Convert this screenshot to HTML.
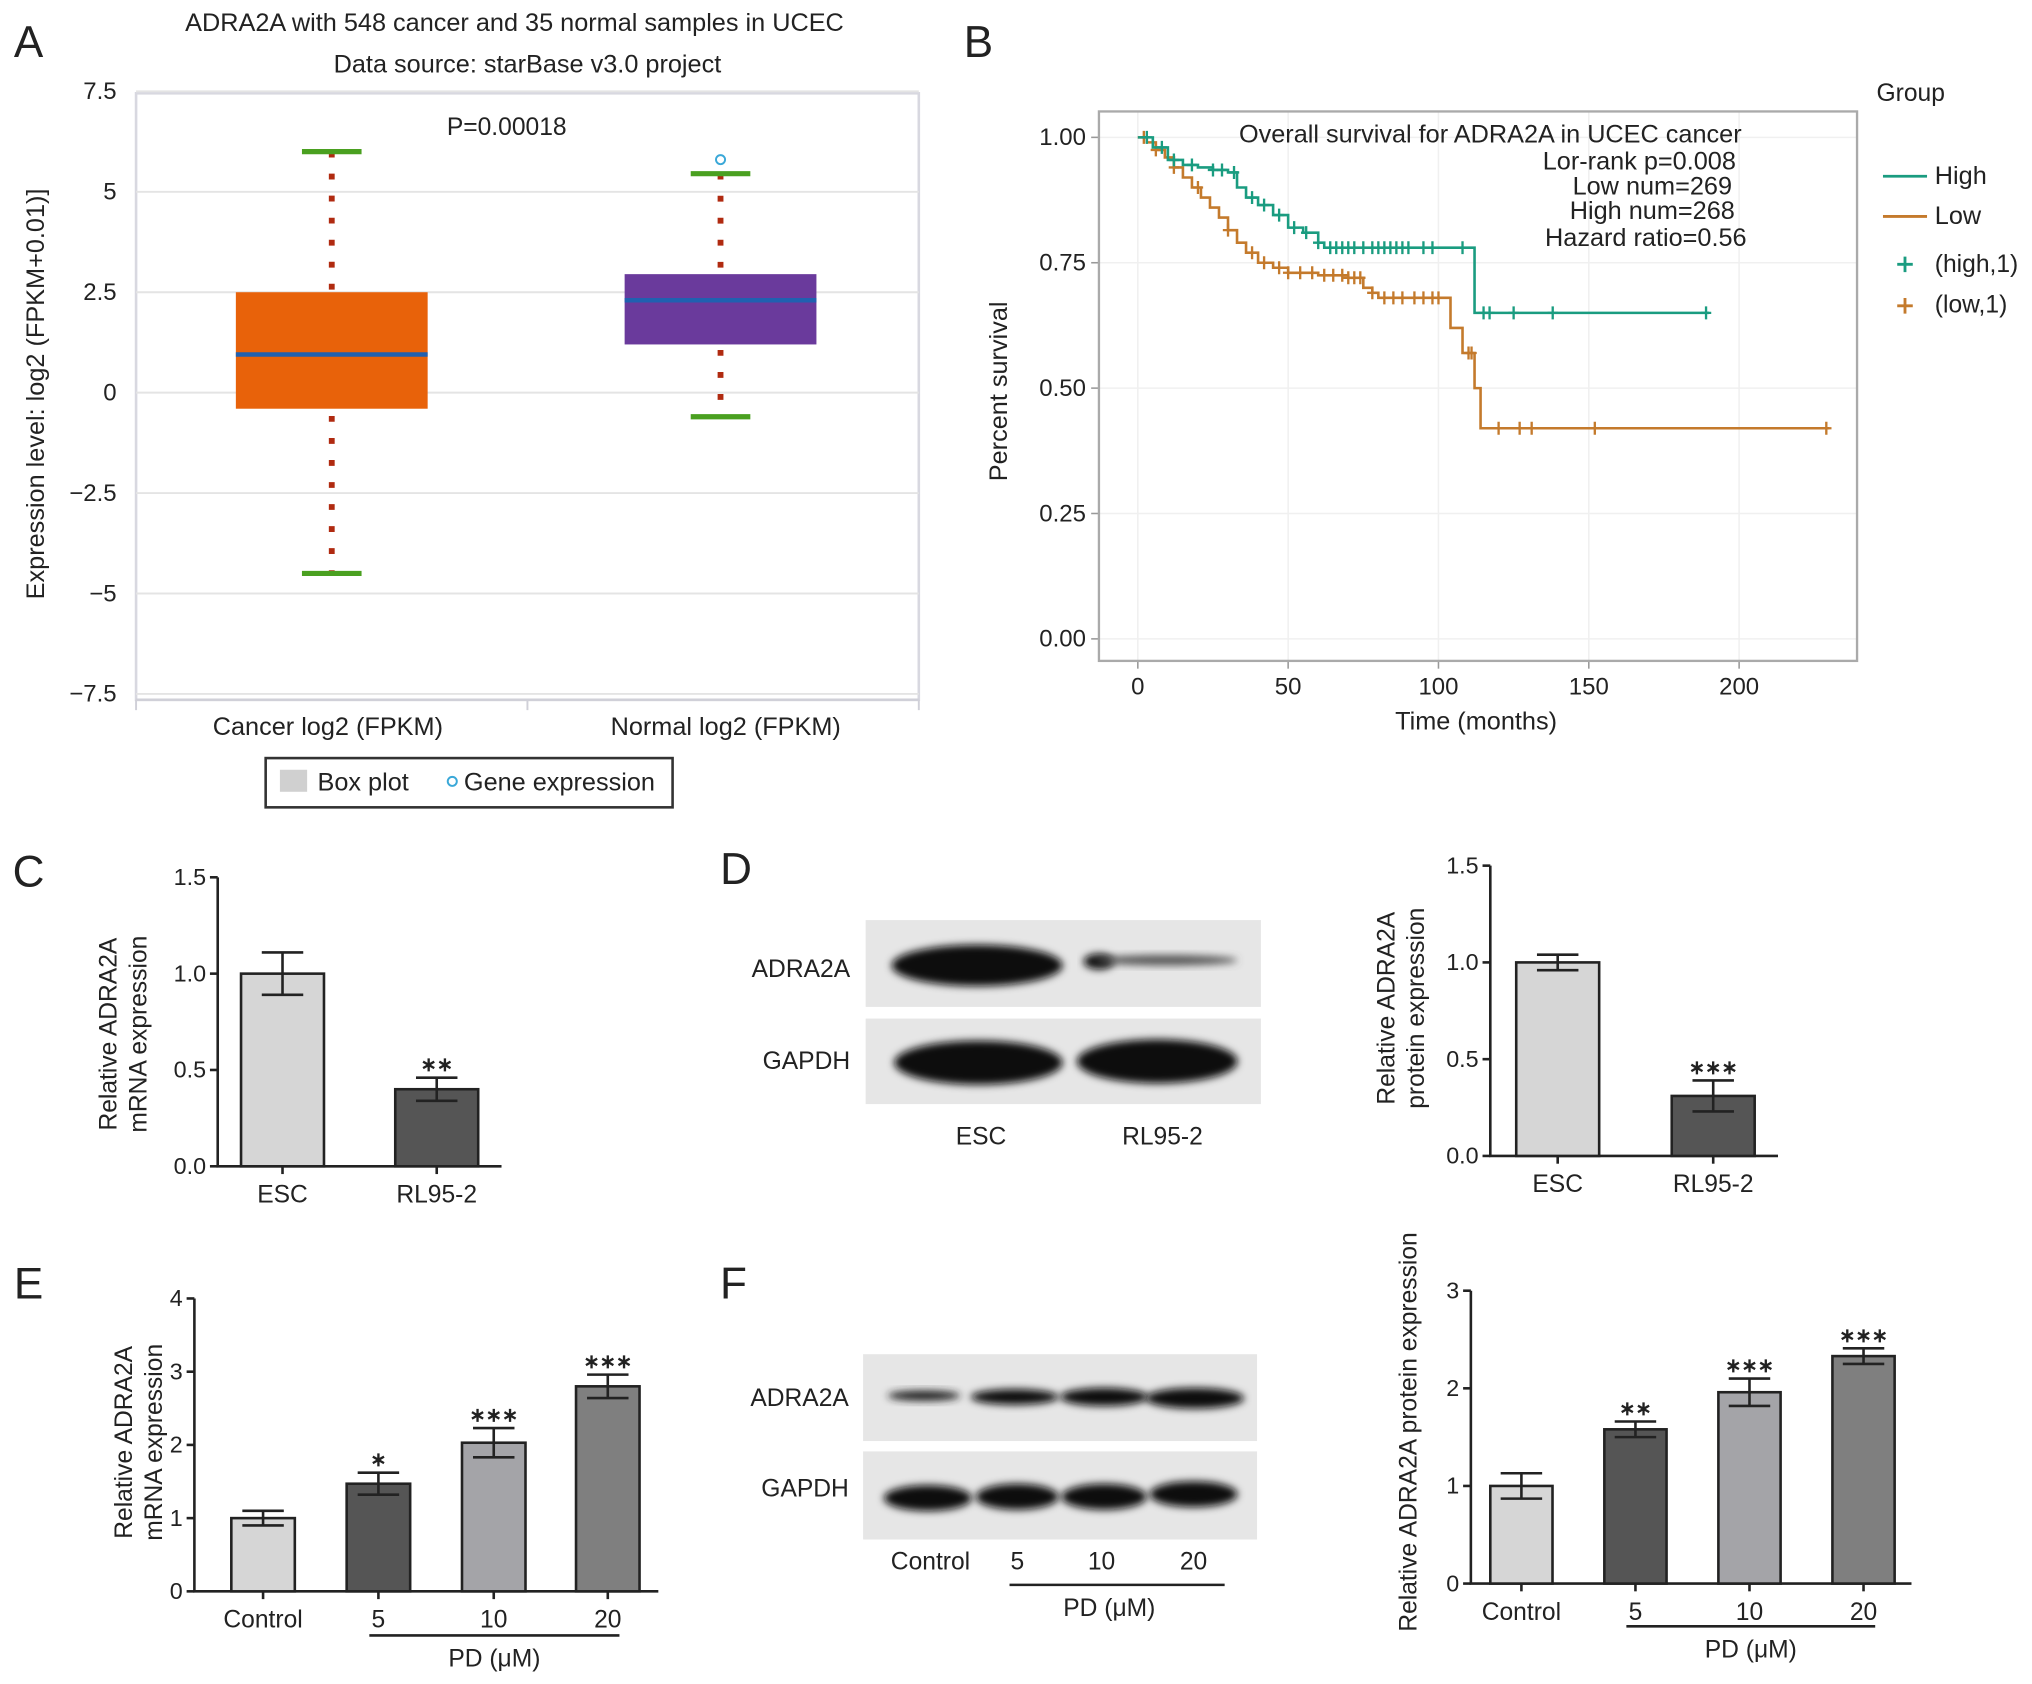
<!DOCTYPE html>
<html><head><meta charset="utf-8"><style>
html,body{margin:0;padding:0;background:#fff;}
svg{display:block;font-family:"Liberation Sans",sans-serif;}
</style></head><body>
<svg id="fig" width="2032" height="1684" viewBox="0 0 1568 1299.5" preserveAspectRatio="none" xmlns="http://www.w3.org/2000/svg">
<defs>
<filter id="blur" x="-20%" y="-50%" width="140%" height="200%"><feGaussianBlur stdDeviation="3"/></filter>
</defs>
<g id="panelA"></g>
<g id="panelB"></g>
<g id="panelC"></g>
<g id="panelD"></g>
<g id="panelE"></g>
<g id="panelF"></g>
</svg>
<script>
// ---- Panel A data ----
const aTicks = [7.5, 5, 2.5, 0, -2.5, -5, -7.5];
const aTickLabels = ["7.5", "5", "2.5", "0", "\u22122.5", "\u22125", "\u22127.5"];
const aCategories = ["Cancer log2 (FPKM)", "Normal log2 (FPKM)"];
const aQ1 = [-0.4, 1.2];
const aQ3 = [2.5, 2.95];
const aMedian = [0.95, 2.3];
const aWhiskerLow = [-4.5, -0.6];
const aWhiskerHigh = [6.0, 5.45];
const aOutliers = [[], [5.8]];
// ---- Panel B data ----
const highT = [0, 5, 10, 15, 20, 25, 30, 33, 36, 40, 45, 50, 55, 60, 62, 112, 190];
const highS = [1, 0.98, 0.955, 0.945, 0.94, 0.935, 0.93, 0.9, 0.88, 0.865, 0.845, 0.82, 0.81, 0.79, 0.78, 0.65, 0.65];
const lowT = [0, 3, 6, 9, 12, 15, 18, 21, 24, 27, 30, 33, 36, 40, 45, 50, 60, 70, 75, 78, 80, 104, 108, 112, 114, 230];
const lowS = [1, 0.99, 0.975, 0.96, 0.94, 0.92, 0.9, 0.88, 0.86, 0.84, 0.815, 0.79, 0.77, 0.75, 0.74, 0.73, 0.725, 0.72, 0.7, 0.69, 0.68, 0.62, 0.57, 0.5, 0.42, 0.42];
const highCensor = [3, 8, 12, 18, 25, 28, 32, 38, 42, 47, 52, 56, 60, 64, 66, 68, 70, 72, 75, 78, 80, 82, 84, 86, 88, 90, 95, 98, 108, 115, 117, 125, 138, 189];
const lowCensor = [2, 6, 12, 20, 30, 38, 42, 47, 50, 54, 58, 62, 65, 68, 70, 72, 74, 78, 82, 85, 88, 92, 95, 98, 100, 110, 111, 120, 127, 131, 152, 229];
const bYTicks = [0, 0.25, 0.5, 0.75, 1.0];
const bYLabels = ["0.00", "0.25", "0.50", "0.75", "1.00"];
const bXTicks = [0, 50, 100, 150, 200];
// ---- Panel C data ----
const cCategories = ["ESC", "RL95-2"];
const cValues = [1.0, 0.4];
const cErrors = [0.11, 0.06];
const cStars = ["", "**"];
const cTicks = [0, 0.5, 1.0, 1.5];
const cTickLabels = ["0.0", "0.5", "1.0", "1.5"];
// ---- Panel D data ----
const dCategories = ["ESC", "RL95-2"];
const dValues = [1.0, 0.31];
const dErrors = [0.04, 0.08];
const dStars = ["", "***"];
const dTicks = [0, 0.5, 1.0, 1.5];
const dTickLabels = ["0.0", "0.5", "1.0", "1.5"];
// ---- Panel E data ----
const eCategories = ["Control", "5", "10", "20"];
const eValues = [1.0, 1.47, 2.03, 2.8];
const eErrors = [0.1, 0.15, 0.2, 0.16];
const eStars = ["", "*", "***", "***"];
const eTicks = [0, 1, 2, 3, 4];
const eTickLabels = ["0", "1", "2", "3", "4"];
// ---- Panel F data ----
const fCategories = ["Control", "5", "10", "20"];
const fValues = [1.0, 1.58, 1.96, 2.33];
const fErrors = [0.13, 0.08, 0.14, 0.08];
const fStars = ["", "**", "***", "***"];
const fTicks = [0, 1, 2, 3];
const fTickLabels = ["0", "1", "2", "3"];

const NS = "http://www.w3.org/2000/svg";
function mk(parent, tag, attrs, text) {
  const e = document.createElementNS(NS, tag);
  for (const k in attrs) e.setAttribute(k, attrs[k]);
  if (text !== undefined) e.textContent = text;
  parent.appendChild(e);
  return e;
}
function txt(parent, x, y, s, size, anchor, name, extra) {
  const t = mk(parent, "text", Object.assign({x: x, y: y, "font-size": size, "text-anchor": anchor || "middle", fill: "#222"}, extra || {}), s);
  
  
  return t;
}
const barColors = ["#d6d6d6", "#555555", "#a4a4a8", "#7f7f7f"];
const FS = 19;

// ---------- Panel A ----------
(function(){
  const g = document.getElementById("panelA");
  const x0 = 105, x1 = 709;
  const y = v => 303 - v * 31.0;
  txt(g, 22, 44, "A", 34, "middle", "panel-label-a");
  txt(g, 397, 24, "ADRA2A with  548 cancer and 35 normal samples in UCEC", 19.5, "middle", "chart-title-a");
  txt(g, 407, 56, "Data source: starBase v3.0 project", 19.5, "middle", "chart-subtitle-a");
  const fr = mk(g, "rect", {x: x0, y: 72, width: x1 - x0, height: 468, fill: "none", stroke: "#d8d8e0", "stroke-width": 2});
  
  
  aTicks.forEach((v, i) => {
    const l = mk(g, "line", {x1: x0, x2: x1, y1: y(v), y2: y(v), stroke: "#e4e4e4", "stroke-width": 1.5});
    
    
    txt(g, 90, y(v) + 6, aTickLabels[i], 18.5, "end", "y-tick-label-a");
  });
  mk(g, "line", {x1: x0, x2: x1, y1: 540, y2: 540, stroke: "#d0d0d8", "stroke-width": 2});
  [x0, 407, x1].forEach(xx => mk(g, "line", {x1: xx, x2: xx, y1: 540, y2: 548, stroke: "#d0d0d8", "stroke-width": 1.5}));
  txt(g, 34, 304, "Expression level: log2 (FPKM+0.01)]", 19.5, "middle", "y-axis-title-a", {transform: "rotate(-90 34 304)"});
  txt(g, 391, 104, "P=0.00018", 19, "middle", "p-value-a");
  const centers = [256, 556];
  const fills = ["#e8620a", "#6a3a9c"];
  aCategories.forEach((c, i) => {
    const cx = centers[i];
    const wl = mk(g, "line", {x1: cx, x2: cx, y1: y(aWhiskerHigh[i]), y2: y(aWhiskerLow[i]), stroke: "#b02a10", "stroke-width": 4.5, "stroke-dasharray": "4.5 12.5"});
    
    
    const b = mk(g, "rect", {x: cx - 74, y: y(aQ3[i]), width: 148, height: y(aQ1[i]) - y(aQ3[i]), fill: fills[i]});
    
    
    const m = mk(g, "line", {x1: cx - 74, x2: cx + 74, y1: y(aMedian[i]), y2: y(aMedian[i]), stroke: "#2060b0", "stroke-width": 3.5});
    
    
    [aWhiskerHigh[i], aWhiskerLow[i]].forEach(v => {
      const cap = mk(g, "line", {x1: cx - 23, x2: cx + 23, y1: y(v), y2: y(v), stroke: "#4aa020", "stroke-width": 4});
      
      
    });
    aOutliers[i].forEach(v => {
      const o = mk(g, "circle", {cx: cx, cy: y(v), r: 3.5, fill: "none", stroke: "#3aa8d8", "stroke-width": 1.5});
      
      
    });
    txt(g, [253, 560][i], 567, c, 19.5, "middle", "x-category-label-a");
  });
  const lg = mk(g, "g", {});
  
  
  mk(lg, "rect", {x: 205, y: 585, width: 314, height: 38, fill: "#fff", stroke: "#333", "stroke-width": 2});
  mk(lg, "rect", {x: 216, y: 594, width: 21, height: 17, fill: "#d0d0d0"});
  txt(lg, 245, 610, "Box plot", 19.5, "start", "legend-entry-boxplot");
  mk(lg, "circle", {cx: 349, cy: 603, r: 3.5, fill: "none", stroke: "#3aa8d8", "stroke-width": 1.5});
  txt(lg, 358, 610, "Gene expression", 19.5, "start", "legend-entry-gene-expression");
})();

// ---------- Panel B ----------
(function(){
  const g = document.getElementById("panelB");
  const xs = t => 878 + t * 2.32;
  const ys = s => 493 - s * 387;
  txt(g, 755, 44, "B", 34, "middle", "panel-label-b");
  bYTicks.forEach((v, i) => {
    const l = mk(g, "line", {x1: 848, x2: 1433, y1: ys(v), y2: ys(v), stroke: "#f0f0f0", "stroke-width": 1.2});
    
    
    mk(g, "line", {x1: 842, x2: 848, y1: ys(v), y2: ys(v), stroke: "#999", "stroke-width": 1.2});
    txt(g, 838, ys(v) + 6, bYLabels[i], 18.5, "end", "y-tick-label-b");
  });
  bXTicks.forEach(v => {
    mk(g, "line", {x1: xs(v), x2: xs(v), y1: 86, y2: 510, stroke: "#f0f0f0", "stroke-width": 1.2});
    mk(g, "line", {x1: xs(v), x2: xs(v), y1: 510, y2: 516, stroke: "#999", "stroke-width": 1.2});
    txt(g, xs(v), 536, String(v), 18.5, "middle", "x-tick-label-b");
  });
  const fr = mk(g, "rect", {x: 848, y: 86, width: 585, height: 424, fill: "none", stroke: "#aaa", "stroke-width": 1.8});
  
  
  txt(g, 1139, 563, "Time (months)", 19.5, "middle", "x-axis-title-b");
  txt(g, 777, 302, "Percent survival", 19.5, "middle", "y-axis-title-b", {transform: "rotate(-90 777 302)"});
  function stepPath(T, S) {
    let d = "M" + xs(T[0]) + "," + ys(S[0]);
    for (let i = 1; i < T.length; i++) d += " H" + xs(T[i]) + " V" + ys(S[i]);
    return d;
  }
  function survAt(T, S, t) {
    let s = S[0];
    for (let i = 0; i < T.length; i++) if (T[i] <= t) s = S[i];
    return s;
  }
  const series = [[lowT, lowS, lowCensor, "#c47a2c", "low"], [highT, highS, highCensor, "#1a9c80", "high"]];
  series.forEach(([T, S, C, col, nm]) => {
    const p = mk(g, "path", {d: stepPath(T, S), fill: "none", stroke: col, "stroke-width": 2});
    
    
    C.forEach(t => {
      const s = survAt(T, S, t);
      const c = mk(g, "path", {d: `M${xs(t) - 4},${ys(s)} h8 M${xs(t)},${ys(s) - 5} v10`, stroke: col, "stroke-width": 1.8});
      
      
    });
  });
  txt(g, 1150, 110, "Overall survival for ADRA2A in UCEC cancer", 19.5, "middle", "chart-title-b");
  txt(g, 1265, 131, "Lor-rank p=0.008", 19.5, "middle", "stat-logrank");
  txt(g, 1275, 150, "Low num=269", 19.5, "middle", "stat-low-num");
  txt(g, 1275, 169, "High num=268", 19.5, "middle", "stat-high-num");
  txt(g, 1270, 190, "Hazard ratio=0.56", 19.5, "middle", "stat-hazard-ratio");
  const lg = mk(g, "g", {});
  
  
  txt(lg, 1448, 78, "Group", 19, "start", "legend-title-b");
  mk(lg, "line", {x1: 1453, x2: 1487, y1: 136, y2: 136, stroke: "#1a9c80", "stroke-width": 2.2});
  txt(lg, 1493, 142, "High", 19.5, "start", "legend-entry-high");
  mk(lg, "line", {x1: 1453, x2: 1487, y1: 167, y2: 167, stroke: "#c47a2c", "stroke-width": 2.2});
  txt(lg, 1493, 173, "Low", 19.5, "start", "legend-entry-low");
  mk(lg, "path", {d: "M1464,204 h12 M1470,198 v12", stroke: "#1a9c80", "stroke-width": 2.2});
  txt(lg, 1493, 210, "(high,1)", 19, "start", "legend-entry-high-censor");
  mk(lg, "path", {d: "M1464,236 h12 M1470,230 v12", stroke: "#c47a2c", "stroke-width": 2.2});
  txt(lg, 1493, 241, "(low,1)", 19, "start", "legend-entry-low-censor");
})();

// ---------- generic bar chart ----------
function barChart(g, o) {
  const ys = v => o.y0 - (v / o.max) * (o.y0 - o.yTop);
  const ax = mk(g, "path", {d: `M${o.x0},${o.yTop} V${o.y0} H${o.x1}`, fill: "none", stroke: "#222", "stroke-width": 2});
  
  
  o.ticks.forEach((v, i) => {
    mk(g, "line", {x1: o.x0 - 6, x2: o.x0, y1: ys(v), y2: ys(v), stroke: "#222", "stroke-width": 2});
    txt(g, o.x0 - 9, ys(v) + 6, o.tickLabels[i], 18, "end", "y-tick-label");
  });
  o.cats.forEach((c, i) => {
    const cx = o.cx[i];
    const b = mk(g, "rect", {x: cx - o.bw / 2, y: ys(o.vals[i]), width: o.bw, height: o.y0 - ys(o.vals[i]), fill: o.colors[i], stroke: "#222", "stroke-width": 2});
    
    
    const hi = ys(o.vals[i] + o.errs[i]), lo = ys(o.vals[i] - o.errs[i]);
    const e = mk(g, "path", {d: `M${cx},${hi} V${lo} M${cx - 16},${hi} h32 M${cx - 16},${lo} h32`, stroke: "#222", "stroke-width": 2, fill: "none"});
    
    
    if (o.stars[i]) txt(g, cx, hi - 5, o.stars[i].replace(/\*/g, "\u2217"), 15, "middle", "significance-stars", {"font-weight": "bold"});
    mk(g, "line", {x1: cx, x2: cx, y1: o.y0, y2: o.y0 + 6, stroke: "#222", "stroke-width": 2});
    txt(g, cx, o.y0 + 28, c, 19, "middle", "x-category-label");
  });
  o.ytitle.forEach((s, k) => {
    const xx = o.tx + k * 23;
    txt(g, xx, o.ty, s, 19, "middle", "y-axis-title", {transform: `rotate(-90 ${xx} ${o.ty})`});
  });
  if (o.pd) {
    mk(g, "line", {x1: o.pd[0], x2: o.pd[1], y1: o.pd[2], y2: o.pd[2], stroke: "#222", "stroke-width": 2});
    txt(g, (o.pd[0] + o.pd[1]) / 2, o.pd[2] + 24, "PD (\u03bcM)", 19, "middle", "pd-axis-label");
  }
}
function blot(g, x, y, w, h, bands, name) {
  const gg = mk(g, "g", {});
  
  
  mk(gg, "rect", {x: x, y: y, width: w, height: h, fill: "#e6e6e6"});
  bands.forEach(b => {
    mk(gg, "ellipse", {cx: b[0], cy: b[1], rx: b[2], ry: b[3], fill: b[4] || "#0a0a0a", filter: "url(#blur)"});
  });
}

// ---------- Panel C ----------
(function(){
  const g = document.getElementById("panelC");
  txt(g, 22, 684, "C", 34, "middle", "panel-label-c");
  barChart(g, {x0: 168, x1: 387, y0: 900, yTop: 677, max: 1.5, ticks: cTicks, tickLabels: cTickLabels,
    cats: cCategories, vals: cValues, errs: cErrors, stars: cStars, cx: [218, 337], bw: 64, colors: [barColors[0], barColors[1]],
    ytitle: ["Relative ADRA2A", "mRNA expression"], tx: 90, ty: 798});
})();

// ---------- Panel D ----------
(function(){
  const g = document.getElementById("panelD");
  txt(g, 568, 682, "D", 34, "middle", "panel-label-d");
  blot(g, 668, 710, 305, 67, [[754, 745, 66, 16], [848, 742, 12, 6], [900, 741, 55, 4, "#555"]], "western-blot-adra2a-d");
  blot(g, 668, 786, 305, 66, [[755, 820, 65, 17], [893, 819, 62, 17]], "western-blot-gapdh-d");
  txt(g, 656, 754, "ADRA2A", 19, "end", "blot-label-adra2a");
  txt(g, 656, 825, "GAPDH", 19, "end", "blot-label-gapdh");
  txt(g, 757, 883, "ESC", 19, "middle", "lane-label");
  txt(g, 897, 883, "RL95-2", 19, "middle", "lane-label");
  barChart(g, {x0: 1150, x1: 1372, y0: 892, yTop: 668, max: 1.5, ticks: dTicks, tickLabels: dTickLabels,
    cats: dCategories, vals: dValues, errs: dErrors, stars: dStars, cx: [1202, 1322], bw: 64, colors: [barColors[0], barColors[1]],
    ytitle: ["Relative ADRA2A", "protein expression"], tx: 1076, ty: 778});
})();

// ---------- Panel E ----------
(function(){
  const g = document.getElementById("panelE");
  txt(g, 22, 1002, "E", 34, "middle", "panel-label-e");
  barChart(g, {x0: 150, x1: 508, y0: 1228, yTop: 1002, max: 4, ticks: eTicks, tickLabels: eTickLabels,
    cats: eCategories, vals: eValues, errs: eErrors, stars: eStars, cx: [203, 292, 381, 469], bw: 49, colors: barColors,
    ytitle: ["Relative ADRA2A", "mRNA expression"], tx: 102, ty: 1113, pd: [285, 478, 1262]});
})();

// ---------- Panel F ----------
(function(){
  const g = document.getElementById("panelF");
  txt(g, 566, 1002, "F", 34, "middle", "panel-label-f");
  blot(g, 666, 1045, 304, 67, [[713, 1077, 28, 4, "#222"], [783, 1078, 34, 6], [852, 1078, 34, 7], [922, 1079, 38, 8]], "western-blot-adra2a-f");
  blot(g, 666, 1120, 304, 68, [[716, 1156, 34, 10], [785, 1155, 32, 10], [852, 1155, 33, 10], [921, 1153, 34, 10]], "western-blot-gapdh-f");
  txt(g, 655, 1085, "ADRA2A", 19, "end", "blot-label-adra2a");
  txt(g, 655, 1155, "GAPDH", 19, "end", "blot-label-gapdh");
  [["Control", 718], ["5", 785], ["10", 850], ["20", 921]].forEach(([s, x]) => txt(g, x, 1211, s, 19, "middle", "lane-label"));
  mk(g, "line", {x1: 779, x2: 945, y1: 1223, y2: 1223, stroke: "#222", "stroke-width": 2});
  txt(g, 856, 1247, "PD (\u03bcM)", 19, "middle", "pd-axis-label");
  barChart(g, {x0: 1135, x1: 1475, y0: 1222, yTop: 996, max: 3, ticks: fTicks, tickLabels: fTickLabels,
    cats: fCategories, vals: fValues, errs: fErrors, stars: fStars, cx: [1174, 1262, 1350, 1438], bw: 48, colors: barColors,
    ytitle: ["Relative ADRA2A protein expression"], tx: 1093, ty: 1105, pd: [1255, 1447, 1255]});
})();
</script>
</body></html>
